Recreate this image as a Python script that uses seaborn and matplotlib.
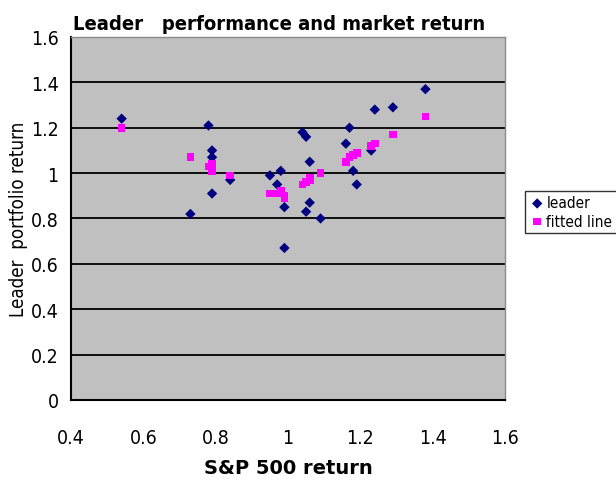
import numpy as np
import pandas as pd
import matplotlib
matplotlib.use("Agg")
import matplotlib.pyplot as plt
import seaborn as sns

# S&P 500 return, leader portfolio return, fitted values
sp500 = [0.54, 0.73, 0.78, 0.79, 0.79, 0.79, 0.84, 0.95, 0.97, 0.98, 0.99, 0.99, 1.04,
         1.05, 1.05, 1.06, 1.06, 1.09, 1.16, 1.17, 1.18, 1.19, 1.23, 1.24, 1.29, 1.38]
leader = [1.24, 0.82, 1.21, 1.10, 1.07, 0.91, 0.97, 0.99, 0.95, 1.01, 0.85, 0.67, 1.18,
          1.16, 0.83, 0.87, 1.05, 0.80, 1.13, 1.20, 1.01, 0.95, 1.10, 1.28, 1.29, 1.37]
fitted = [1.20, 1.07, 1.03, 1.04, 1.01, 1.02, 0.99, 0.91, 0.91, 0.92, 0.89, 0.90, 0.95,
          0.96, 0.96, 0.98, 0.97, 1.00, 1.05, 1.07, 1.08, 1.09, 1.12, 1.13, 1.17, 1.25]

xticks = [0.4, 0.6, 0.8, 1, 1.2, 1.4, 1.6]
yticks = [0, 0.2, 0.4, 0.6, 0.8, 1, 1.2, 1.4, 1.6]

df = pd.DataFrame({'sp500': sp500, 'leader': leader, 'fitted': fitted})

sns.set_style("white")
plt.rcParams['font.family'] = ['DejaVu Sans']
plt.rcParams['text.color'] = 'black'
plt.rcParams['axes.labelcolor'] = 'black'
plt.rcParams['xtick.color'] = 'black'
plt.rcParams['ytick.color'] = 'black'

fig = plt.figure(figsize=(6.16, 4.89), dpi=100)
ax = fig.add_axes([0.1153, 0.18, 0.7045, 0.7423])
ax.set_facecolor('#c0c0c0')

for y in yticks[1:-1]:
    ax.axhline(y, color='black', lw=1.3, zorder=1)

sns.scatterplot(data=df, x='sp500', y='leader', marker='D', color='#000080',
                s=28, edgecolor='none', label='leader', ax=ax, zorder=3)
sns.scatterplot(data=df, x='sp500', y='fitted', marker='s', color='#ff00ff',
                s=30, edgecolor='none', label='fitted line', ax=ax, zorder=4)

ax.set_xlim(0.4, 1.6)
ax.set_ylim(0, 1.6)
ax.set_xticks(xticks)
ax.set_yticks(yticks)
ax.set_xticklabels([f'{t:g}' for t in xticks], fontsize=14, fontstretch='condensed')
ax.set_yticklabels([f'{t:g}' for t in yticks], fontsize=14, fontstretch='condensed')
ax.tick_params(axis='x', direction='out', length=6, width=1.3, pad=14)
ax.tick_params(axis='y', direction='out', length=5, width=1.3, pad=4)

for side in ['left', 'bottom']:
    ax.spines[side].set_color('black')
    ax.spines[side].set_linewidth(1.5)
for side in ['top', 'right']:
    ax.spines[side].set_color('#8c8c8c')
    ax.spines[side].set_linewidth(1.0)

ax.set_xlabel('S&P 500 return', fontsize=14, fontweight='bold', labelpad=8)
ax.set_ylabel('Leader  portfolio return', fontsize=13.5, fontstretch='condensed', labelpad=2)
ax.set_title('Leader   performance and market return', fontsize=14.5, fontweight='bold',
             fontstretch='condensed', loc='left', x=0.005, pad=6)

leg = ax.legend(loc='upper left', bbox_to_anchor=(1.046, 0.576), frameon=True,
                fancybox=False, edgecolor='black', handletextpad=0.1,
                prop={'size': 11, 'stretch': 'condensed'},
                borderpad=0.3, labelspacing=0.2, handlelength=1.0, borderaxespad=0)
leg.get_frame().set_linewidth(1.0)

fig.savefig('out.png', dpi=100, facecolor='white')
